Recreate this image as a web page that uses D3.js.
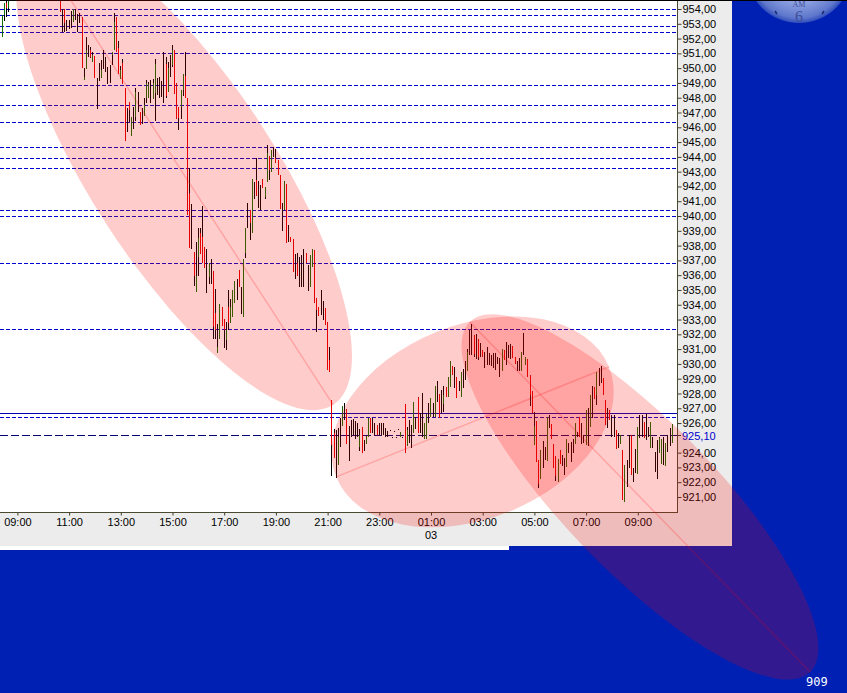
<!DOCTYPE html>
<html><head><meta charset="utf-8">
<script src="https://cdn.jsdelivr.net/npm/d3@7"></script>
<style>html,body{margin:0;padding:0;background:#0020b4;overflow:hidden}svg{display:block}text{font-family:"Liberation Sans",Arial,sans-serif}</style>
</head><body><svg id="c" width="847" height="693"></svg>
<script>
const _ = null;
const firstRunLength = 4, hiddenBars = 23, firstBarTime = "02 08:25", barMinutes = 5;
const highs = [953.57,954.38,955.2,955.2,
955,953.98,953.98,953.26,953.26,953.87,953.98,953.98,953.66,953.71,
953.48,949.99,952.13,951.57,951.45,951.12,950.82,949.36,950.33,950.55,
951.23,950.78,950.1,950.2,951.12,953.71,953.48,951.86,950.15,950.6,
948.66,947.33,947.69,946.72,947.4,948.66,948.41,947.06,947.33,947.96,
949.2,949.09,949.2,949.25,950.6,949.31,949.43,949.13,951.12,950.73,
950.44,950.89,951.57,951.23,949.02,947.35,948.52,949.61,951.12,947.96,
943.23,940.82,937.57,938.22,939.17,939.17,940.68,937.93,937.77,936.8,
937.07,936.29,935.07,932.7,934.06,933.83,933.04,932.82,935,934.39,
935,935.61,935.75,936.35,935.23,937.07,939.17,940.86,940.41,942.48,
942.33,943.9,942.37,942.1,942.48,941.94,944.8,944.06,944.47,944.69,
944.54,943.79,942.78,940.91,942.37,942.17,939.4,938.56,938.45,937.44,
937.53,937.26,937.37,937.75,937.48,936.69,937.37,937.75,937.71,934.44,
933.87,935,934.28,933.81,932.86,931.17,
927.56,925.6,925.53,925.65,926.37,927.16,927.34,926.93,925.8,926.21,
926.28,926.16,925.98,925.6,925.71,924.86,925.15,926.37,926.37,926.37,
925.98,925.87,926.03,926.03,926.03,925.65,925.49,925.5,925.08,925.45,
925.08,925.6,925.38,925.08,927.29,925.76,926.21,925.87,927.45,926.43,
927.79,926.66,928.01,925.98,926.61,927.34,927.67,927.34,928.51,928.85,
927.97,928.24,928.51,928.46,929.09,930.2,929.86,929.77,929.14,928.85,
929.48,929.66,930.2,930.99,932.29,932.7,931.96,932.02,931.66,931.39,
930.94,930.83,931.12,930.72,930.6,930.76,930.76,930.49,
930.38,930.99,930.94,931.46,931.28,931.35,931.21,930.49,930.22,930.42,
930.78,932.11,930.45,930.31,929.25,928.19,926.73,926.14,923.5,924.18,
924.79,924.41,926.43,926.55,925.92,924.56,923.77,923.55,924.18,923.84,
923.62,924.9,924.63,924.74,924.9,925.98,925.42,926.43,925.98,925.19,
926.88,927.04,927.9,928.51,928.42,929.48,929.7,929.86,929.03,927.56,
927,926.88,926.55,926.55,925.53,925.3,925.2,924.18,923.17,923.5,
925.19,925.19,922.94,924.25,925.76,926.55,926.55,926.1,926.59,925.76,
926.1,925.08,924.07,924.86,925.08,924.9,925.08,924.63,925.19,925.65,
925.94];
const lows = [952.13,953.21,953.48,953.82,
953.82,952.42,952.42,952.54,952.63,952.69,953.14,953.26,952.42,953.03,
950.03,949.2,949.94,950.73,950.67,950.4,949.36,947.24,949.16,949.31,
949.92,949.76,948.93,949.02,950.2,951.23,951.12,949.61,949.27,948.93,
945.1,945.68,946.34,945.44,945.87,946.45,947.06,946.16,946.23,946.77,
947.67,947.96,947.62,947.89,946.45,948.19,947.96,948.03,947.62,947.96,
948.41,949.38,950.1,948.25,946.56,945.82,946.56,948.12,948.01,940.07,
937.82,937.77,935.29,934.89,935.97,937.44,936.8,936.51,934.78,935.41,
935.41,931.67,931.67,930.72,931.69,932.59,931.1,930.94,932.3,932.75,
933.2,934.1,934.33,935.23,933.38,933.2,937.19,939.17,938.38,938.88,
941.13,941.38,940.52,940.41,941.88,941.15,942.28,942.44,943,943.97,
943.57,942.78,940.48,939.01,940.41,938.2,938.27,938.27,936.24,935.72,
935.95,935.18,935.18,935.18,936.8,934.96,935.18,936.58,934.15,932.18,
933.24,933.31,932.97,932.63,929.59,929.48,
922.44,923.66,922.31,923.17,924.41,925.8,926.21,924.59,923.46,925.04,
925.19,924.9,925.08,924.11,924,924.11,924.59,925.08,925.31,925.35,
925.19,925.19,925.19,925.19,925.19,925.04,925.04,925.44,925.02,925.4,
925.02,925.55,925.04,925.02,924,924.45,924.63,924.29,925.35,925.6,
925.31,925.31,925.04,924.93,924.93,926.03,926.43,926.39,926.43,927.45,
926.37,926.7,926.77,927.74,927.79,928.46,929.25,928.35,927.72,928.19,
927.74,928.35,928.91,929.54,930.6,930.6,930.49,930.31,930.27,930.45,
930.45,929.75,929.93,929.93,929.86,929.7,929.59,929.97,
929.09,929.54,930.27,929.93,930.38,930.31,930.38,929.97,929.54,929.52,
929.54,930.6,929.93,929.14,927.16,926.7,924.52,923.39,921.63,922.2,
922.94,923.5,923.46,925.65,924.93,922.94,922.08,922.04,923.23,923.12,
922.49,923.05,923.95,923.39,923.95,924.59,925.08,925.04,924.59,924.63,
924.52,924.45,925.76,926.32,927.6,927.22,928.53,928.69,927.9,925.87,
925.65,926.21,925.08,925.08,924.22,924.3,924.59,920.8,920.69,921.66,
922.94,922.49,922.04,922.6,922.53,924.97,925.08,924.97,924.86,925.08,
924.34,924.34,922.72,922.22,923.95,923.23,923.17,923.12,924.07,924.47,
924.63];
const opens = [952.13,953.6,954.38,954.05,
955,_,953.98,_,_,_,953.14,_,_,_,
953.48,949.2,949.94,_,951.23,950.4,950.82,_,_,949.31,
_,_,_,_,950.9,951.23,953.48,951.34,949.27,950.33,
948.66,_,947.69,945.44,_,946.72,_,947.06,_,946.77,
948,948,_,947.89,948.3,_,_,_,_,950.3,
948.41,_,950.2,951.23,949.02,947.35,947.4,948.5,949.5,947.96,
941.54,_,937.57,934.89,937.26,938.83,938.61,937.93,_,935.9,
_,936.29,933.42,930.72,931.69,933.83,933.04,931.6,933.87,932.75,
933.2,934.1,_,936.35,_,933.2,937.48,_,940.41,938.88,
_,942.44,_,_,942.48,941.3,942.28,944.06,943,_,
943.9,943.79,942.78,_,940.41,942.17,_,938.56,938.45,_,
936.8,_,_,_,937.48,_,935.18,936.58,937.71,934.44,
933.87,_,_,933.81,932.86,930.27,
927.56,925.3,_,923.17,_,925.8,_,926.93,_,_,
_,_,_,924.4,925.71,_,924.59,925.08,926.37,_,
_,925.87,_,_,_,_,_,_,_,_,
_,_,925.04,_,927.29,924.45,_,_,925.35,_,
927.79,_,_,924.93,924.93,_,926.43,_,926.43,_,
927.97,_,927.3,928.46,927.79,928.46,929.86,_,929.14,_,
927.74,_,_,929.54,_,_,931.96,_,931.66,_,
930.94,_,_,_,_,_,_,_,
_,929.54,930.94,_,_,_,931.21,930.49,_,_,
929.54,_,929.93,930.31,929.25,928.19,924.52,926.14,923.5,922.2,
_,_,923.46,_,925.92,924.56,923.77,922.04,924.18,_,
_,923.05,_,_,_,924.59,_,926.43,_,_,
924.52,_,925.76,_,928.42,927.9,_,_,929.03,927.56,
_,926.88,_,_,925.53,_,924.59,924.18,920.69,_,
_,925.19,_,_,922.53,_,_,926.1,_,_,
924.34,_,_,_,923.95,923.23,_,923.12,_,_,
924.63];
const closes = [953.57,954.38,954.05,955,
953.82,_,953.03,_,_,_,953.98,_,_,_,
950.03,949.43,951.23,_,950.78,950.9,949.36,_,_,949.88,
_,_,_,_,951.12,953.14,951.12,949.61,949.88,948.93,
945.1,_,947.2,946.72,_,948.41,_,946.16,_,947.5,
949,948.9,_,949,950.3,_,_,_,_,948.1,
950,_,951.23,948.25,946.56,946.6,948.52,949.61,948.01,940.07,
937.82,_,935.97,935.97,938.49,937.44,936.8,936.51,_,936.8,
_,932.52,932.3,931.17,934.06,932.59,932.3,932.3,932.75,933.87,
935,935.61,_,935.23,_,937.07,939.17,_,939.5,942.48,
_,941.38,_,_,941.88,941.94,944.24,943.1,944.47,_,
943.57,942.78,940.48,_,942.37,938.2,_,938.27,936.24,_,
935.95,_,_,_,936.8,_,937.37,937.75,934.15,933.63,
933.24,_,_,932.63,929.59,929.48,
924.52,923.66,_,925.08,_,927.16,_,924.59,_,_,
_,_,_,925.2,924,_,925.15,926.37,925.31,_,
_,925.19,_,_,_,_,_,_,_,_,
_,_,925.38,_,924,925.5,_,_,927.45,_,
925.31,_,_,925.98,926.61,_,927.67,_,928.51,_,
926.37,_,927.9,927.74,929.09,930.2,929.25,_,927.72,_,
929.48,_,_,930.8,_,_,930.7,_,930.5,_,
930.45,_,_,_,_,_,_,_,
_,930.99,930.27,_,_,_,930.38,929.97,_,_,
930.78,_,930.45,929.14,927.9,926.7,925.8,923.39,921.9,924.18,
_,_,926.43,_,924.93,922.94,922.4,923.55,923.23,_,
_,924.9,_,_,_,925.98,_,925.04,_,_,
926.88,_,927.9,_,927.6,929.48,_,_,927.9,925.87,
_,926.21,_,_,924.22,_,925.2,920.8,923.17,_,
_,922.49,_,_,925.76,_,_,924.97,_,_,
926.1,_,_,_,925,924.9,_,924.63,_,_,
925.94];
const priceTicks = [954,953,952,951,950,949,948,947,946,945,944,943,942,941,940,939,938,937,936,935,934,933,932,931,930,929,928,927,926,924,923,922,921];
const lastPrice = 925.10, lastPriceLine = 925.2;
const timeTicks = ["02 09:00","02 11:00","02 13:00","02 15:00","02 17:00","02 19:00","02 21:00","02 23:00","03 01:00","03 03:00","03 05:00","03 07:00","03 09:00"];
const dayLabelTime = "03 01:00", dayLabel = "03";
const levelPrices = [953.98,953.58,952.83,952.43,951.01,948.84,947.49,946.34,944.65,943.91,943.23,940.39,939.98,936.81,932.35,926.44];
const solidLevel = 926.65;
const ellipseStartTimes = ["02 09:41","02 21:20","03 02:30"];
const ellipseStartPrices = [958.33,922.36,932.84];
const ellipseEndTimes = ["02 21:13","03 07:53","03 15:40"];
const ellipseEndPrices = [927.23,929.80,909.17];
const ellipseWidths = [92,97,75];
const clockText = ["AM","6"], cornerText = "909";

const parse = d3.utcParse("%d %H:%M");
const x = d3.scaleUtc().domain([parse("02 09:00"),parse("03 09:00")]).range([17.4,637.8]);
const y = d3.scaleLinear().domain([954,921]).range([9,497]);
const comma = d => d.toFixed(2).replace(".",",");
const svg = d3.select("#c");
const BLUE="#0020b4", GREY="#ececec", LINE="#0000cc";
svg.append("rect").attr("width",847).attr("height",693).attr("fill",BLUE);

// clock
const grad = svg.append("defs").append("radialGradient").attr("id","clk");
grad.append("stop").attr("offset","0%").attr("stop-color","#c8d4f0");
grad.append("stop").attr("offset","60%").attr("stop-color","#8ea2e0");
grad.append("stop").attr("offset","90%").attr("stop-color","#6078cc");
grad.append("stop").attr("offset","100%").attr("stop-color","#2f4cbc");
svg.append("circle").attr("cx",799).attr("cy",-29.5).attr("r",52.6).attr("fill","url(#clk)");
[[777,14,775,11],[822,14,824,11]].forEach(t=>svg.append("line").attr("x1",t[0]).attr("y1",t[1]).attr("x2",t[2]).attr("y2",t[3]).attr("stroke","#1a2a70").attr("stroke-width",1.5));
svg.append("text").attr("x",799).attr("y",7).attr("text-anchor","middle").attr("font-size",8).attr("fill","#3d4f9a").style("font-family","Liberation Serif").text(clockText[0]);
svg.append("text").attr("x",799).attr("y",22).attr("text-anchor","middle").attr("font-size",16).attr("fill","#3d4f9a").style("font-family","Liberation Serif").text(clockText[1]);

// panels
svg.append("rect").attr("x",0).attr("y",546).attr("width",509).attr("height",4).attr("fill","#fff");
svg.append("rect").attr("x",0).attr("y",0).attr("width",732).attr("height",546).attr("fill",GREY);
svg.append("rect").attr("x",0).attr("y",0).attr("width",677).attr("height",512).attr("fill","#fff");

// level lines
const lineY = p => Math.round(y(p))+0.5;
svg.selectAll(".lvl").data(levelPrices).join("line").attr("x1",0).attr("x2",677)
  .attr("y1",lineY).attr("y2",lineY)
  .attr("stroke",LINE).attr("stroke-dasharray","4,2");
svg.append("line").attr("x1",0).attr("x2",677).attr("y1",lineY(solidLevel)).attr("y2",lineY(solidLevel)).attr("stroke","#0000b0");
svg.append("line").attr("x1",0).attr("x2",677).attr("y1",lineY(lastPriceLine)).attr("y2",lineY(lastPriceLine)).attr("stroke","#000070").attr("stroke-dasharray","8,3");

// bars
const t0 = parse(firstBarTime).getTime();
const barTime = k => new Date(t0 + (k<firstRunLength?k:k+hiddenBars)*barMinutes*60000);
const bars = highs.map((h,k)=>({t:barTime(k),h,l:lows[k],o:opens[k],c:closes[k]}));
const col = d => Math.floor(x(d.t));
const g = svg.append("g").attr("shape-rendering","crispEdges");
g.selectAll(".w").data(bars).join("rect").attr("x",col).attr("width",1)
  .attr("y",d=>Math.round(y(d.h))).attr("height",d=>Math.max(1,Math.round(y(d.l))-Math.round(y(d.h)))).attr("fill","#000");
g.selectAll(".b").data(bars.filter(d=>d.o!==null)).join("rect").attr("x",col).attr("width",1)
  .attr("y",d=>Math.round(y(Math.max(d.o,d.c)))).attr("height",d=>Math.max(1,Math.round(y(Math.min(d.o,d.c)))-Math.round(y(Math.max(d.o,d.c)))))
  .attr("fill",d=>d.c>=d.o?"#0f7000":"#e00000");

// axes
const ax = d3.axisRight(y).tickValues(priceTicks).tickFormat(comma).tickSize(4).tickPadding(1);
const ag = svg.append("g").attr("transform","translate(677.5,0)").call(ax);
ag.select(".domain").remove();
ag.selectAll("line").attr("stroke","#3c3c28");
ag.selectAll("text").attr("font-size",11).attr("fill","#000").style("font-family","Liberation Sans");
const bx = d3.axisBottom(x).tickValues(timeTicks.map(parse)).tickFormat(d3.utcFormat("%H:%M")).tickSize(3).tickPadding(3);
const bg = svg.append("g").attr("transform","translate(0,512.5)").call(bx);
bg.select(".domain").remove();
bg.selectAll("line").attr("stroke","#3c3c28");
bg.selectAll("text").attr("font-size",11).attr("fill","#000").style("font-family","Liberation Sans");
svg.append("line").attr("x1",0).attr("x2",677.5).attr("y1",512.5).attr("y2",512.5).attr("stroke","#4a4a30");
svg.append("line").attr("x1",677.5).attr("x2",677.5).attr("y1",0).attr("y2",513).attr("stroke","#4a4a30");
svg.append("line").attr("x1",677).attr("x2",681).attr("y1",lineY(lastPriceLine)).attr("y2",lineY(lastPriceLine)).attr("stroke","#3c3c28");
svg.append("text").attr("x",682).attr("y",y(lastPrice)+4).attr("font-size",11).attr("fill",LINE).text(comma(lastPrice));
svg.append("text").attr("x",x(parse(dayLabelTime))).attr("y",539).attr("text-anchor","middle").attr("font-size",11).attr("fill","#000").text(dayLabel);
svg.append("rect").attr("width",847).attr("height",1).attr("fill","#000");
svg.append("text").attr("x",806).attr("y",686).attr("font-size",12).attr("fill","#fff").style("font-family","DejaVu Sans Mono").text(cornerText);

// ellipses lie over everything, tinting what they cross
ellipseWidths.forEach((b,i)=>{
  const x1=x(parse(ellipseStartTimes[i])),y1=y(ellipseStartPrices[i]),x2=x(parse(ellipseEndTimes[i])),y2=y(ellipseEndPrices[i]);
  const a=Math.hypot(x2-x1,y2-y1)/2, ang=Math.atan2(y2-y1,x2-x1)*180/Math.PI;
  svg.append("ellipse").attr("cx",(x1+x2)/2).attr("cy",(y1+y2)/2).attr("rx",a).attr("ry",b)
    .attr("transform",`rotate(${ang} ${(x1+x2)/2} ${(y1+y2)/2})`).attr("fill","rgba(255,0,0,0.2)");
  svg.append("line").attr("x1",x1).attr("y1",y1).attr("x2",x2).attr("y2",y2).attr("stroke","rgba(255,0,0,0.2)").attr("stroke-width",1.5);
});
</script></body></html>
